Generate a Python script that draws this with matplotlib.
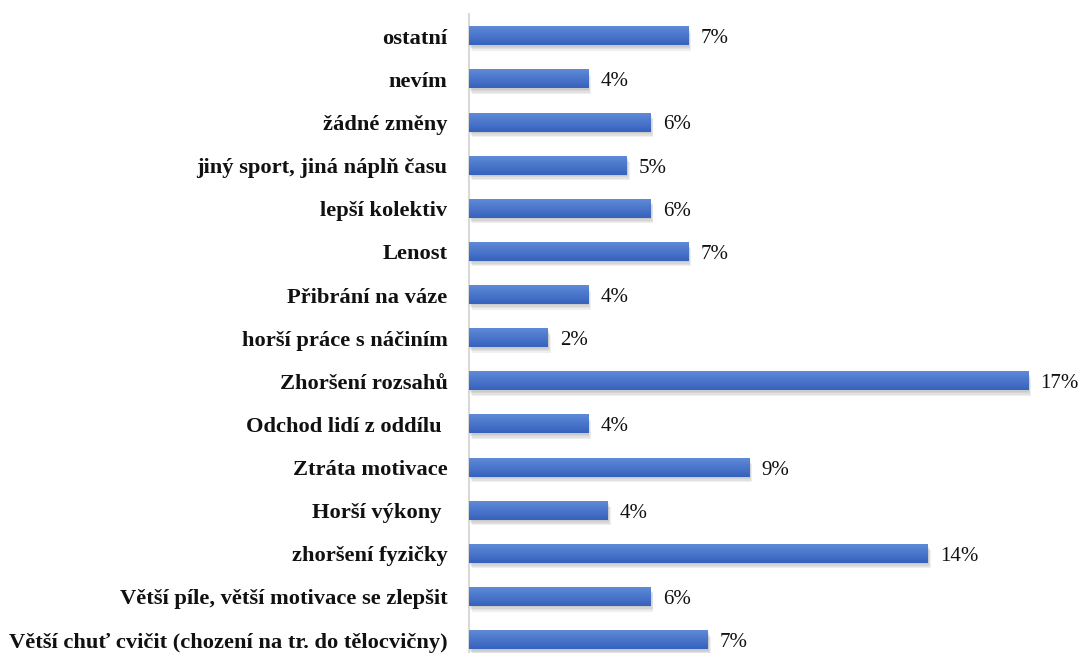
#!/usr/bin/env python3
"""Horizontal bar chart of reported changes, with percentages."""

import matplotlib.pyplot as plt
import numpy as np
from matplotlib import patheffects

# Categories listed bottom to top, as they sit on the y axis.
categories = [
    "Větší chuť cvičit (chození na tr. do tělocvičny)",
    "Větší píle, větší motivace se zlepšit",
    "zhoršení fyzičky",
    "Horší výkony ",
    "Ztráta motivace",
    "Odchod lidí z oddílu ",
    "Zhoršení rozsahů",
    "horší práce s náčiním",
    "Přibrání na váze",
    "Lenost",
    "lepší kolektiv",
    "jiný sport, jiná náplň času",
    "žádné změny",
    "nevím",
    "ostatní",
]
shares = [7.26, 5.52, 13.95, 4.22, 8.52, 3.62, 17.0, 2.40, 3.62, 6.66, 5.52, 4.80, 5.52, 3.62, 6.66]

BAR_COLOR = "#4472c4"
TOP_COLOR = np.array([0x5e, 0x8a, 0xd8]) / 255
BOTTOM_COLOR = np.array([0x37, 0x62, 0xbd]) / 255


def main() -> None:
    plt.rcParams["font.family"] = ["Liberation Serif", "DejaVu Serif"]

    fig = plt.figure(figsize=(10.84, 6.53), dpi=100)
    ax = fig.add_axes([469 / 1084, 0.0, 1 - 469 / 1084, 1.0])

    y = np.arange(len(categories))
    height = 0.42
    # several faint offset copies give a soft drop shadow
    shadow = [
        patheffects.SimplePatchShadow(offset=(dx, dy), shadow_rgbFace="#808080", alpha=0.12)
        for dx, dy in [(0.5, -1.0), (1.0, -2.0), (1.5, -3.0), (2.0, -4.0)]
    ]
    bars = ax.barh(
        y,
        shares,
        height=height,
        color=BAR_COLOR,
        zorder=2,
        path_effects=shadow + [patheffects.Normal()],
    )

    # soft vertical gradient on top of every bar
    grad = np.linspace(0, 1, 32)[:, None, None]
    grad_img = TOP_COLOR * (1 - grad) + BOTTOM_COLOR * grad
    for bar in bars:
        x0 = bar.get_x()
        y0 = bar.get_y()
        ax.imshow(
            grad_img,
            extent=(x0, x0 + bar.get_width(), y0, y0 + bar.get_height()),
            origin="upper",
            aspect="auto",
            interpolation="bilinear",
            zorder=3,
        )

    for yi, value in zip(y, shares):
        ax.text(
            value + 0.37,
            yi,
            f"{value:.0f}%",
            ha="left",
            va="center_baseline",
            fontsize=15,
            color="#111111",
            zorder=4,
        )

    ax.set_xlim(0, 615 / 32.9)
    ax.set_ylim(-0.30, 14.84)
    ax.set_yticks(y)
    ax.set_yticklabels(categories, fontsize=16.2, fontweight="bold", color="#111111")
    ax.tick_params(axis="y", length=0, pad=15.5)
    ax.set_xticks([])
    for side in ("top", "right", "bottom"):
        ax.spines[side].set_visible(False)
    ax.spines["left"].set_color("#d9d9d9")
    ax.spines["left"].set_linewidth(1.5)
    ax.spines["left"].set_bounds(-0.5, 14.51)

    fig.savefig("out.png", dpi=100, facecolor="white")
    plt.close(fig)


if __name__ == "__main__":
    main()
